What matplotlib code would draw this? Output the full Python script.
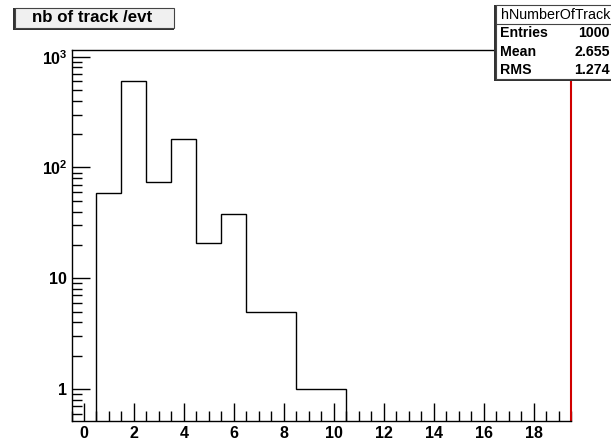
import matplotlib
matplotlib.use("Agg")
import matplotlib.pyplot as plt
from matplotlib.patches import Rectangle
from matplotlib.ticker import MultipleLocator, LogLocator, FixedLocator, FuncFormatter
import numpy as np

plt.rcParams['font.family'] = ['Liberation Sans', 'DejaVu Sans']
plt.rcParams['mathtext.fontset'] = 'custom'
plt.rcParams['mathtext.rm'] = 'Liberation Sans:bold'
plt.rcParams['mathtext.bf'] = 'Liberation Sans:bold'

# histogram: number of tracks per event
bin_centers = [0, 1, 2, 3, 4, 5, 6, 7, 8, 9, 10, 11, 12, 13, 14, 15, 16, 17, 18, 19]
counts = [0, 59, 610, 74, 181, 21, 38, 5, 5, 1, 1, 0, 0, 0, 0, 0, 0, 0, 0, 0]
stats_names = ["Entries", "Mean", "RMS"]
stats_values = ["1000", "2.655", "1.274"]
hist_name = "hNumberOfTrack"
title = "nb of track /evt"

W, H = 611, 441
fig = plt.figure(figsize=(W / 100, H / 100), dpi=100)
fig.patch.set_facecolor("white")


def fx(px):
    return px / W


def fy(py):
    return 1 - py / H


ax = fig.add_axes([fx(71.5), fy(420.5), fx(571) - fx(71.5), fy(50) - fy(420.5)])

edges = np.array(bin_centers + [bin_centers[-1] + 1]) - 0.5
vals = np.array(counts, dtype=float)
# empty bins go down to the axis like ROOT does
y = np.where(vals > 0, vals, 1e-3)
ax.stairs(y, edges, color="black", linewidth=1.0, baseline=None)

ax.set_yscale("log")
ax.set_xlim(-0.5, 19.5)
ax.set_ylim(0.52, 1150)

ax.xaxis.set_major_locator(MultipleLocator(2))
ax.xaxis.set_minor_locator(MultipleLocator(0.5))
ax.yaxis.set_major_locator(FixedLocator([1, 10, 100, 1000]))
ax.yaxis.set_minor_locator(LogLocator(base=10, subs=np.arange(2, 10)))


def ylab(v, pos):
    if v == 1:
        return "1"
    if v == 10:
        return "10"
    return r"10$^{%d}$" % int(round(np.log10(v)))


ax.yaxis.set_major_formatter(FuncFormatter(ylab))
ax.xaxis.set_major_formatter(FuncFormatter(lambda v, p: "%d" % v))

ax.tick_params(axis="both", which="major", direction="in", length=13, width=1,
               labelsize=11.5)
ax.tick_params(axis="both", which="minor", direction="in", length=7, width=1)
ax.tick_params(axis="x", which="both", top=False, pad=4)
ax.tick_params(axis="y", which="both", right=False, pad=3)
for lab in ax.get_xticklabels() + ax.get_yticklabels():
    lab.set_fontweight("bold")

for s in ax.spines.values():
    s.set_linewidth(1.0)
ax.spines["right"].set_color("#d00000")
ax.spines["right"].set_linewidth(1.5)

# title box with shadow on left/bottom
fig.patches.append(Rectangle((fx(13), fy(30)), fx(174) - fx(13), fy(8) - fy(30),
                             transform=fig.transFigure, facecolor="#333333",
                             edgecolor="none", zorder=5))
fig.patches.append(Rectangle((fx(15), fy(28)), fx(174) - fx(15), fy(8) - fy(28),
                             transform=fig.transFigure, facecolor="#f0f0f0",
                             edgecolor="#444444", linewidth=0.8, zorder=6))
fig.text(fx(92), fy(18), title, ha="center", va="center", fontsize=12.2,
         fontweight="bold", zorder=7)

# stats box
fig.patches.append(Rectangle((fx(494), fy(81)), fx(615) - fx(494), fy(5) - fy(81),
                             transform=fig.transFigure, facecolor="#333333",
                             edgecolor="none", zorder=5))
fig.patches.append(Rectangle((fx(496), fy(79)), fx(615) - fx(496), fy(5) - fy(79),
                             transform=fig.transFigure, facecolor="white",
                             edgecolor="#444444", linewidth=0.8, zorder=6))
fig.add_artist(plt.Line2D([fx(496), fx(615)], [fy(24), fy(24)],
                          transform=fig.transFigure, color="#444444",
                          linewidth=0.8, zorder=7))
fig.text(fx(501), fy(15), hist_name, ha="left", va="center", fontsize=10.3,
         zorder=8)
row_y = [33, 52, 70]
for name, val, ry in zip(stats_names, stats_values, row_y):
    fig.text(fx(500), fy(ry), name, ha="left", va="center", fontsize=10.2,
             fontweight="bold", zorder=8)
    fig.text(fx(610), fy(ry), val, ha="right", va="center", fontsize=10.2,
             fontweight="bold", zorder=8)

fig.savefig("out.png", dpi=100)
